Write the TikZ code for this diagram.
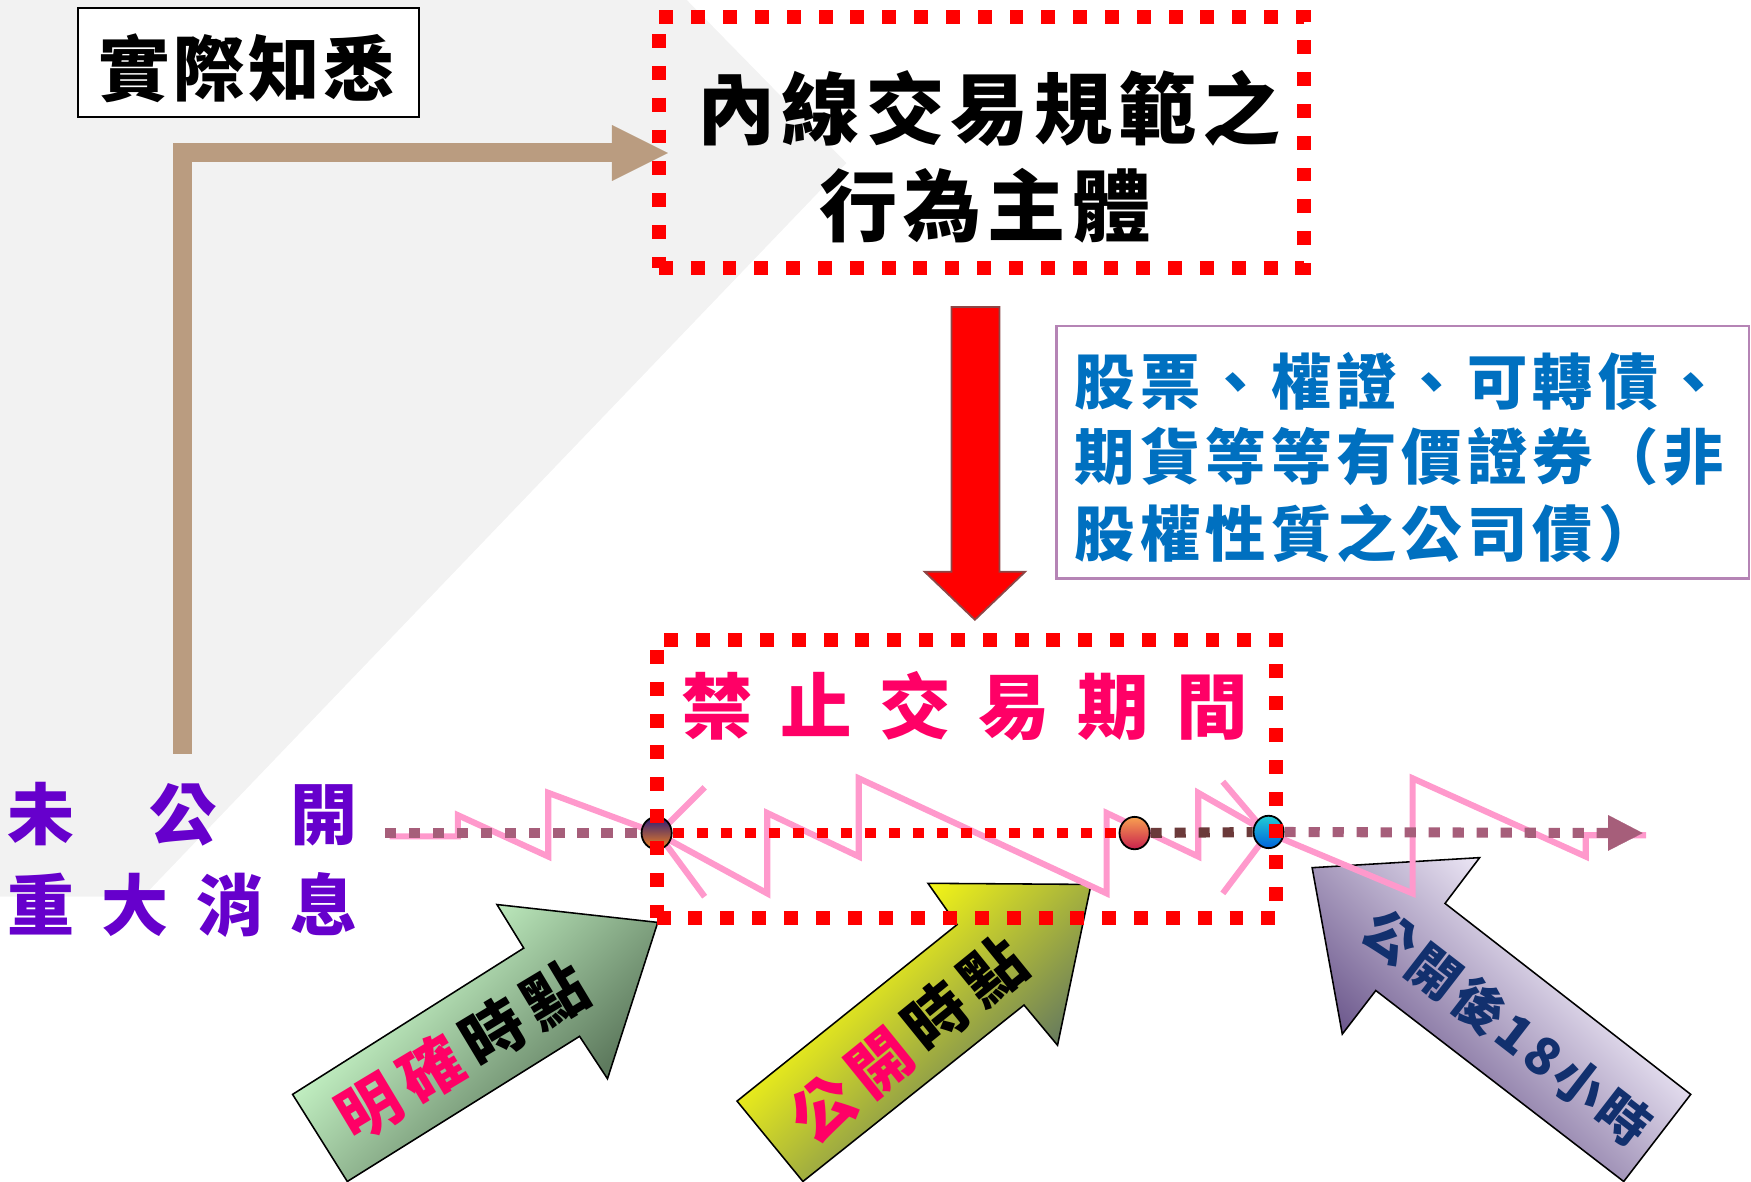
\documentclass[tikz,border=0pt]{standalone}
\usepackage{fontspec}
\setmainfont{Noto Sans CJK TC}
\usetikzlibrary{arrows.meta,shapes.geometric}
\definecolor{bggrey}{HTML}{F2F2F2}
\definecolor{tanc}{HTML}{BA9C80}
\definecolor{boxred}{HTML}{FF0000}
\definecolor{bluetext}{HTML}{0070C0}
\definecolor{boxpurple}{HTML}{B584B5}
\definecolor{magtext}{HTML}{FF0066}
\definecolor{purptext}{HTML}{6600CC}
\definecolor{pinkzz}{HTML}{FF99CC}
\definecolor{mauve}{HTML}{A65E7A}
\definecolor{brownd}{HTML}{6B3A3A}
\definecolor{navytext}{HTML}{12306E}
\definecolor{greenlt}{HTML}{C8F7C8}
\definecolor{greendk}{HTML}{5E7A5E}
\definecolor{yellowlt}{HTML}{FFFF10}
\definecolor{yellowdk}{HTML}{667A5E}
\definecolor{purplelt}{HTML}{F8F4FF}
\definecolor{purpledk}{HTML}{6E5A8E}
\definecolor{arrowedge}{HTML}{8C4646}
\definecolor{cAtop}{HTML}{2A1A7A}
\definecolor{cAbot}{HTML}{F7861E}
\definecolor{cBtop}{HTML}{F8A050}
\definecolor{cBbot}{HTML}{C8204E}
\definecolor{cCtop}{HTML}{22CCD4}
\definecolor{cCbot}{HTML}{0062DC}
\pgfdeclareverticalshading{gshade}{100bp}{color(0bp)=(greendk); color(33bp)=(greendk); color(67bp)=(greenlt); color(100bp)=(greenlt)}
\pgfdeclareverticalshading{yshade}{100bp}{color(0bp)=(yellowdk); color(33bp)=(yellowdk); color(67bp)=(yellowlt); color(100bp)=(yellowlt)}
\pgfdeclareverticalshading{pshade}{100bp}{color(0bp)=(purpledk); color(33bp)=(purpledk); color(67bp)=(purplelt); color(100bp)=(purplelt)}
\makeatletter
\newcommand\lsp[2]{\def\lsp@sep{}\@tfor\lsp@c:=#2\do{\lsp@sep\lsp@c\def\lsp@sep{\hspace{#1}}}}
\makeatother
\tikzset{
  redbox/.style={draw=boxred, line width=6.25pt, dash pattern=on 6.25pt off 8pt, inner sep=0pt},
  tlbase/.style={line width=4.5pt, dash pattern=on 5pt off 5.75pt},
  mauvedot/.style={tlbase, draw=mauve},
  reddot/.style={tlbase, draw=boxred},
  browndot/.style={tlbase, draw=brownd},
  pinkline/.style={draw=pinkzz, line width=2.75pt, line join=miter},
  dotc/.style={ellipse, draw=black, line width=0.8pt, minimum width=13.5pt, minimum height=14.5pt, inner sep=0pt},
  blockarrow/.style={draw=black, line width=0.7pt, line join=miter, shade},
  plainbox/.style={fill=white, inner sep=0pt},
  fs/.style={font=\fontsize{#1}{#1}\selectfont\bfseries, inner sep=0pt}
}
\begin{document}
\begin{tikzpicture}[x=0.5pt,y=-0.5pt]
\useasboundingbox (0,0) rectangle (1568,1058);
% background
\fill[bggrey] (0,0) -- (615,0) -- (758,146) -- (128,803) -- (0,803) -- cycle;

% actual knowledge box
\node[plainbox, draw=black, line width=1pt, minimum width=152.5pt, minimum height=49pt] (wkbox) at (222.5,56) {};
\node[fs=32pt] (wktext) at (221,61) {\lsp{1.5pt}{實際知悉}};

% left purple text
\node[fs=30pt, text=purptext] (ugA) at (163.5,729) {\makebox[156.5pt]{未\hfill 公\hfill 開}};
\node[fs=30pt, text=purptext] (ugB) at (163.5,810) {\makebox[156.5pt]{重\hfill 大\hfill 消\hfill 息}};

% securities box
\node[plainbox, draw=boxpurple, line width=1pt, minimum width=310pt, minimum height=113pt] (secbox) at (1256,405) {};
\node[fs=27pt, text=bluetext, anchor=west] (secA) at (962,342) {\lsp{2.3pt}{股票、權證、可轉債、}};
\node[fs=27pt, text=bluetext, anchor=west] (secB) at (962,409) {\lsp{2.3pt}{期貨等等有價證券（非}};
\node[fs=27pt, text=bluetext, anchor=west] (secC) at (962,478) {\lsp{2.3pt}{股權性質之公司債）}};

% block arrows
\path[blockarrow, shading=gshade, shading angle=45]
  (589,826) -- (445,810) -- (469,849) -- (262,980) -- (311,1058) -- (519,928) -- (544,966) -- cycle;
\node[fs=28pt, rotate=31] (gtext) at (414,941) {\textcolor{magtext}{\lsp{4.5pt}{明確}}\hspace{4.5pt}\lsp{4.5pt}{時點}};
\path[blockarrow, shading=yshade, shading angle=45]
  (977,792) -- (831,791) -- (857,828) -- (660,986) -- (719,1058) -- (917,900) -- (947,936) -- cycle;
\node[fs=28pt, rotate=39] (ytext) at (813,931) {\textcolor{magtext}{\lsp{4.5pt}{公開}}\hspace{4.5pt}\lsp{4.5pt}{時點}};
\path[blockarrow, shading=pshade, shading angle=-45]
  (1175,777) -- (1325,768) -- (1294,809) -- (1514,980) -- (1454,1058) -- (1232,887) -- (1202,926) -- cycle;
\node[fs=23pt, rotate=-37.7, text=navytext] (ptext) at (1350,920) {\lsp{2pt}{公開後18小時}};

% price zigzag
\draw[pinkline] (349,749) -- (410,749) -- (410,730) -- (491,767) -- (491,710) -- (588,746)
  -- (687,800) -- (687,728) -- (769,767) -- (769,697) -- (991,800) -- (991,728) -- (1073,767)
  -- (1073,710) -- (1136,746) -- (1265,800) -- (1265,697) -- (1420,767) -- (1420,748) -- (1474,748);
\draw[pinkline] (597,739) -- (631,705);
\draw[pinkline] (597,757) -- (631,803);
\draw[pinkline] (1129,740) -- (1095,700);
\draw[pinkline] (1129,755) -- (1095,800);

% timeline
\coordinate (tlstart) at (345,746);
\coordinate (tlend) at (1471,746);
\node[dotc, top color=cAtop, bottom color=cAbot] (cA) at (588,746) {};
\node[dotc, top color=cBtop, bottom color=cBbot] (cB) at (1016,746) {};
\node[dotc, top color=cCtop, bottom color=cCbot] (cC) at (1136,745) {};
\draw[mauvedot] (tlstart) -- (cA);
\draw[reddot] (cA) -- (cB);
\draw[browndot] (cB) -- (cC);
\draw[mauvedot, -{Triangle[length=15.5pt,width=16pt,line width=0.1pt]}] (cC) -- (tlend);

% red dotted boxes
\node[redbox, minimum width=289pt, minimum height=112.5pt] (rulebox) at (879,127.5) {};
\node[fs=35pt] (ruleA) at (886,97) {\lsp{2.7pt}{內線交易規範之}};
\node[fs=35pt] (ruleB) at (882,184) {\lsp{2.7pt}{行為主體}};
\node[redbox, minimum width=277.5pt, minimum height=124.5pt] (banbox) at (865.5,697.5) {};
\node[fs=32pt, text=magtext] (bantext) at (864,632) {\lsp{12.3pt}{禁止交易期間}};

% tan connector
\coordinate (tanstart) at (163.5,675);
\coordinate (tantip) at (598,137);
\draw[tanc, line width=8.5pt, line join=miter, -{Triangle[length=25pt,width=25pt,line width=0.1pt]}] (tanstart) |- (tantip);

% red down arrow
\filldraw[fill=boxred, draw=arrowedge, line width=0.8pt, line join=miter]
  (852,275) -- (895,275) -- (895,512) -- (918,512) -- (873,555) -- (828,512) -- (852,512) -- cycle;
\end{tikzpicture}
\end{document}
